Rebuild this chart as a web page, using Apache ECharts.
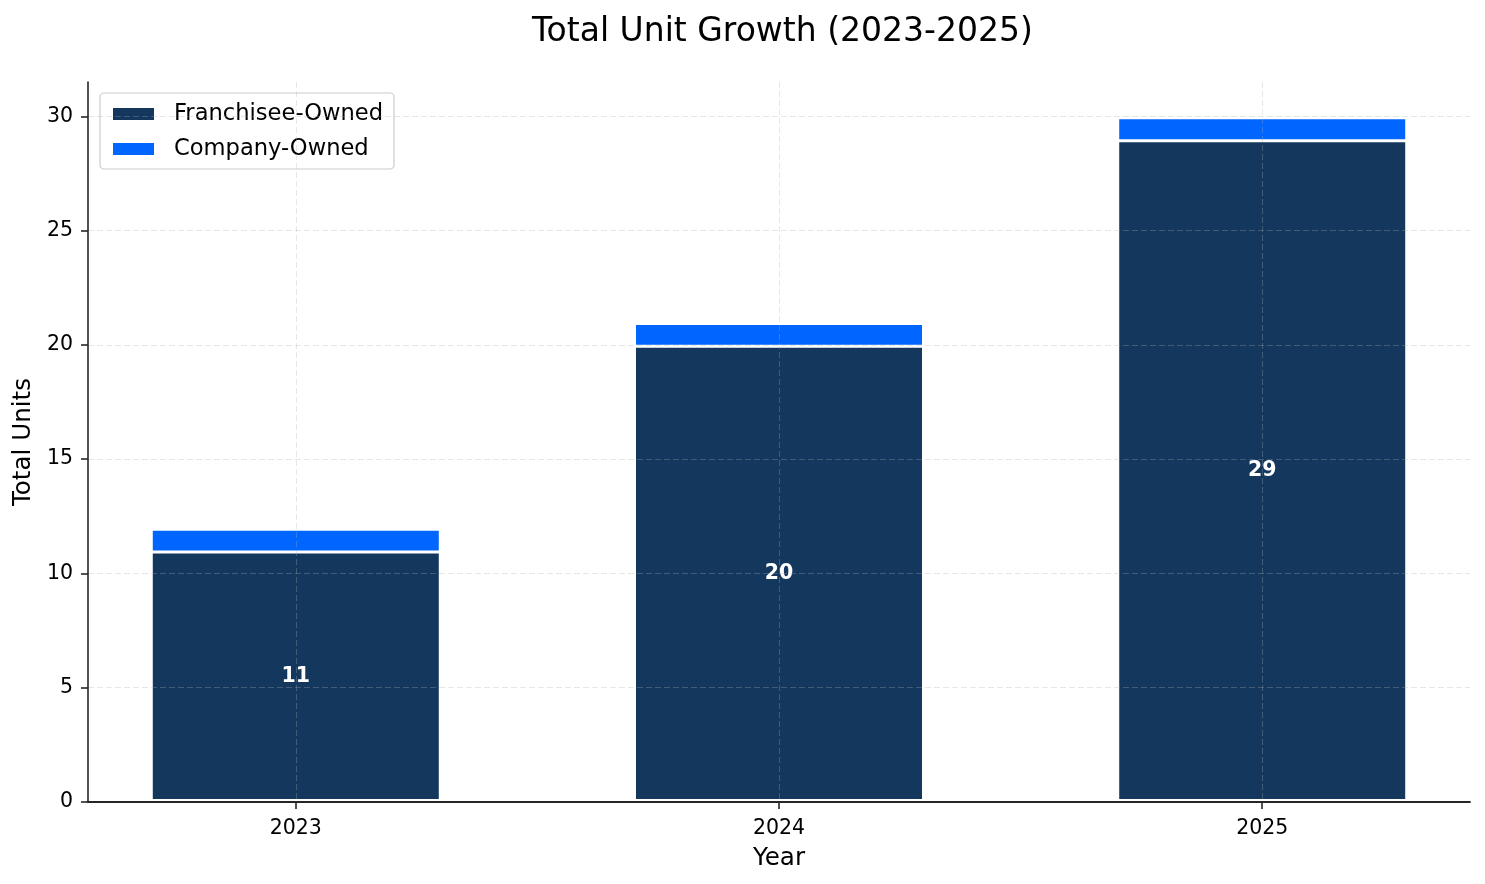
<!DOCTYPE html>
<html><head><meta charset="utf-8">
<script src="https://cdn.jsdelivr.net/npm/echarts@6/dist/echarts.min.js"></script>
<style>html,body{margin:0;padding:0;background:#fff}#c{width:1485px;height:884px}</style>
</head><body><div id="c"></div>
<script>
const years = ['2023', '2024', '2025'];
const franchiseeOwned = [11, 20, 29];
const companyOwned = [1, 1, 1];
const yTicks = [0, 5, 10, 15, 20, 25, 30];

const FONT = 'DejaVu Sans';
const chart = echarts.init(document.getElementById('c'), null, {renderer: 'canvas'});
const xPos = years.map((_, i) => i);
// company segment sits on top of franchisee segment: drawn behind as the stack total
const stackTop = franchiseeOwned.map((v, i) => v + companyOwned[i]);
const gridColor = 'rgba(176,176,176,0.3)';
const axisColor = '#262626';
chart.setOption({
  animation: false,
  backgroundColor: '#fff',
  textStyle: {fontFamily: FONT},
  title: {
    text: 'Total Unit Growth (2023-2025)', left: 527, top: 11,
    textStyle: {fontFamily: FONT, fontSize: 33, fontWeight: 'normal', color: '#000'}
  },
  legend: {
    left: 100, top: 93, orient: 'vertical',
    icon: 'rect', itemWidth: 43, itemHeight: 14, itemGap: 11,
    padding: [9, 11, 8, 11],
    borderColor: '#cccccc', borderWidth: 1.2, borderRadius: 4,
    textStyle: {fontFamily: FONT, fontSize: 22.6, color: '#000', lineHeight: 24, padding: [0, 0, 0, 14]},
    data: ['Franchisee-Owned', 'Company-Owned']
  },
  grid: {left: 88, right: 15, top: 82, bottom: 82, containLabel: false},
  xAxis: {
    type: 'value', min: -0.43, max: 2.43, z: 5,
    name: 'Year', nameLocation: 'middle', nameGap: 44,
    nameTextStyle: {fontFamily: FONT, fontSize: 24.6, color: '#000'},
    axisLine: {show: true, onZero: false, lineStyle: {color: axisColor, width: 1.8}},
    axisTick: {show: true, customValues: xPos, length: 7, lineStyle: {color: axisColor, width: 1.6}},
    axisLabel: {customValues: xPos, fontFamily: FONT, fontSize: 20.5, color: '#000', margin: 16,
      formatter: v => years[Math.round(v)] ?? ''},
    splitLine: {show: true, lineStyle: {color: gridColor, type: [6, 3], width: 1}}
  },
  yAxis: {
    type: 'value', min: 0, max: 31.5, z: 5,
    name: 'Total Units', nameLocation: 'middle', nameGap: 48, nameRotate: 90,
    nameTextStyle: {fontFamily: FONT, fontSize: 24.6, color: '#000'},
    axisLine: {show: true, onZero: false, lineStyle: {color: axisColor, width: 1.6}},
    axisTick: {show: true, customValues: yTicks, length: 7, lineStyle: {color: axisColor, width: 1.6}},
    axisLabel: {customValues: yTicks, fontFamily: FONT, fontSize: 20.5, color: '#000', margin: 15},
    splitLine: {show: true, lineStyle: {color: gridColor, type: [6, 3], width: 1}}
  },
  series: [
    {
      name: 'Franchisee-Owned', type: 'bar', barWidth: 292, barGap: '-100%', z: 3,
      itemStyle: {color: '#14375E', borderColor: '#fff', borderWidth: 3},
      label: {show: true, position: 'inside', color: '#fff', fontWeight: 'bold', fontSize: 20.5, fontFamily: FONT},
      data: franchiseeOwned.map((v, i) => [xPos[i], v])
    },
    {
      name: 'Company-Owned', type: 'bar', barWidth: 292, barGap: '-100%', z: 2,
      itemStyle: {color: '#0066FF', borderColor: '#fff', borderWidth: 3},
      data: stackTop.map((v, i) => [xPos[i], v])
    }
  ]
});
</script></body></html>
